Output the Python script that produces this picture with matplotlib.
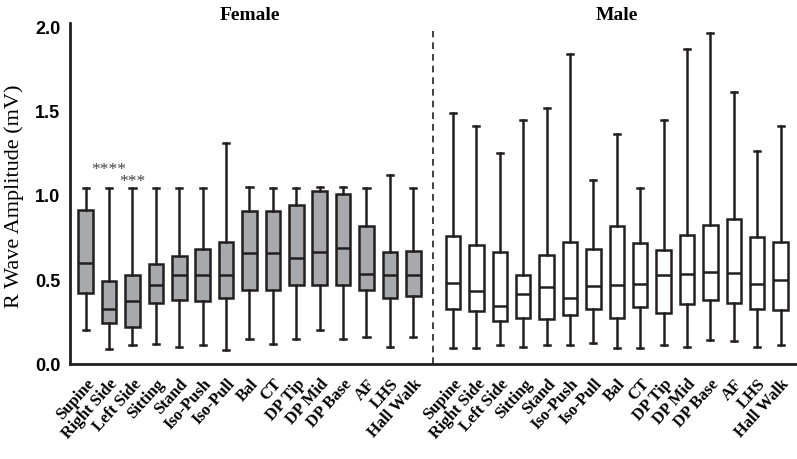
import matplotlib
matplotlib.use("Agg")
import matplotlib.pyplot as plt
import numpy as np

conditions = ["Supine", "Right Side", "Left Side", "Sitting", "Stand", "Iso-Push",
              "Iso-Pull", "Bal", "CT", "DP Tip", "DP Mid", "DP Base", "AF", "LHS",
              "Hall Walk"]

# Female: whisker low, Q1, median, Q3, whisker high
female_low = [0.20, 0.09, 0.11, 0.12, 0.10, 0.11, 0.08, 0.15, 0.12, 0.15, 0.20, 0.15, 0.16, 0.10, 0.16]
female_q1 = [0.42, 0.245, 0.22, 0.36, 0.38, 0.37, 0.39, 0.44, 0.44, 0.47, 0.47, 0.47, 0.44, 0.39, 0.40]
female_med = [0.60, 0.325, 0.375, 0.467, 0.527, 0.527, 0.527, 0.657, 0.657, 0.627, 0.661, 0.684, 0.534, 0.527, 0.527]
female_q3 = [0.91, 0.49, 0.527, 0.59, 0.639, 0.678, 0.722, 0.905, 0.905, 0.943, 1.026, 1.004, 0.818, 0.661, 0.669]
female_high = [1.04, 1.04, 1.04, 1.04, 1.04, 1.04, 1.31, 1.05, 1.04, 1.04, 1.05, 1.05, 1.04, 1.12, 1.04]

# Male
male_low = [0.093, 0.093, 0.114, 0.102, 0.114, 0.114, 0.124, 0.093, 0.093, 0.114, 0.102, 0.142, 0.134, 0.102, 0.114]
male_q1 = [0.325, 0.314, 0.256, 0.272, 0.266, 0.292, 0.325, 0.272, 0.337, 0.304, 0.357, 0.377, 0.361, 0.323, 0.317]
male_med = [0.479, 0.43, 0.345, 0.412, 0.456, 0.39, 0.462, 0.469, 0.475, 0.527, 0.534, 0.544, 0.54, 0.475, 0.499]
male_q3 = [0.755, 0.704, 0.661, 0.527, 0.647, 0.72, 0.68, 0.814, 0.718, 0.676, 0.765, 0.82, 0.86, 0.751, 0.722]
male_high = [1.483, 1.41, 1.249, 1.441, 1.515, 1.836, 1.089, 1.36, 1.04, 1.441, 1.866, 1.959, 1.611, 1.262, 1.41]

def make_stats(low, q1, med, q3, high):
    return [dict(whislo=a, q1=b, med=c, q3=d, whishi=e, fliers=[])
            for a, b, c, d, e in zip(low, q1, med, q3, high)]

fig = plt.figure(figsize=(7.97, 4.60), dpi=100)
ax = fig.add_axes([70/797, (460-365)/460, 1 - 70/797, (365-27)/460])

edge = "#231f20"
lw = 1.8
pos_f = np.arange(15)
pos_m = 15.7 + np.arange(15)

common = dict(widths=0.62, patch_artist=True, showfliers=False,
              boxprops=dict(edgecolor=edge, linewidth=lw),
              medianprops=dict(color=edge, linewidth=lw),
              whiskerprops=dict(color=edge, linewidth=lw),
              capprops=dict(color=edge, linewidth=lw),
              capwidths=0.26)

bf = ax.bxp(make_stats(female_low, female_q1, female_med, female_q3, female_high),
            positions=pos_f, **common)
for b in bf["boxes"]:
    b.set_facecolor("#a7a9ac")
bm = ax.bxp(make_stats(male_low, male_q1, male_med, male_q3, male_high),
            positions=pos_m, **common)
for b in bm["boxes"]:
    b.set_facecolor("white")

ax.axvline(14.85, ymin=0.0, ymax=0.985, color=edge, linestyle=(0, (4, 3)), linewidth=1.2)

ax.set_xlim(-0.67, 30.4)
ax.set_ylim(0, 2.0)
ax.set_yticks([0.0, 0.5, 1.0, 1.5, 2.0])
ax.set_yticklabels(["0.0", "0.5", "1.0", "1.5", "2.0"],
                   fontfamily="Liberation Sans", fontweight="bold", fontsize=13)
ax.tick_params(axis="y", length=0, pad=7)
ax.tick_params(axis="x", length=0, pad=8)

ax.set_xticks(list(pos_f) + list(pos_m))
ax.set_xticklabels(conditions + conditions, rotation=48, ha="right",
                   rotation_mode="anchor", fontfamily="Liberation Serif",
                   fontweight="bold", fontsize=12)

for s in ["top", "right"]:
    ax.spines[s].set_visible(False)
for s in ["left", "bottom"]:
    ax.spines[s].set_linewidth(2.0)
    ax.spines[s].set_color(edge)
ax.spines["left"].set_bounds(0, 2.02)

ax.set_ylabel("R Wave Amplitude (mV)", fontfamily="Liberation Serif", fontsize=16, labelpad=8)

ax.text(7, 2.07, "Female", ha="center", va="center", fontfamily="Liberation Serif",
        fontweight="bold", fontsize=14, clip_on=False)
ax.text(22.7, 2.07, "Male", ha="center", va="center", fontfamily="Liberation Serif",
        fontweight="bold", fontsize=14, clip_on=False)

ax.text(1.0, 1.155, "****", ha="center", va="center", fontfamily="Liberation Serif",
        fontsize=12.5, color="#444444")
ax.text(2.0, 1.085, "***", ha="center", va="center", fontfamily="Liberation Serif",
        fontsize=12.5, color="#444444")

fig.savefig("out.png", dpi=100)
